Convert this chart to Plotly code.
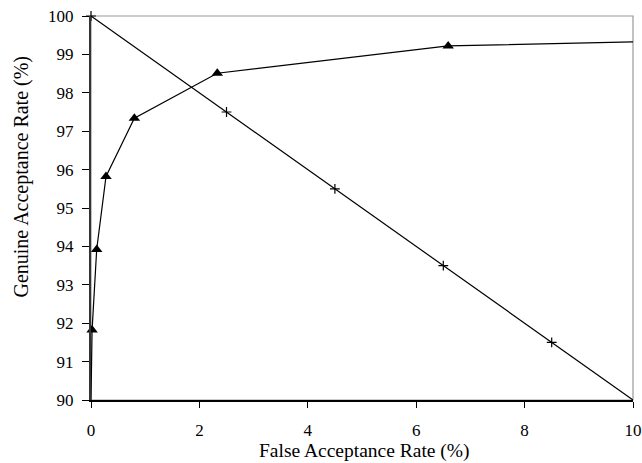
import plotly.graph_objects as go

# Triangle series (ROC-like curve)
far_tri = [0.0, 0.02, 0.105, 0.277, 0.80, 2.33, 6.59, 10.12]
gar_tri = [90.0, 91.82, 93.92, 95.82, 97.34, 98.51, 99.22, 99.33]

# Plus series (diagonal)
far_plus = [0.0, 2.5, 4.5, 6.5, 8.5, 10.1]
gar_plus = [100.0, 97.5, 95.5, 93.5, 91.5, 89.9]

x_ticks = [0, 2, 4, 6, 8, 10]
y_ticks = list(range(90, 101))

x_title = "False Acceptance Rate (%)"
y_title = "Genuine Acceptance Rate (%)"

FONT = "Liberation Serif, Times New Roman, serif"

fig = go.Figure()

fig.add_trace(go.Scatter(
    x=far_tri, y=gar_tri, mode="lines+markers",
    line=dict(color="black", width=1.2),
    marker=dict(symbol="triangle-up", size=10, color="black",
                opacity=[0, 1, 1, 1, 1, 1, 1, 0]),
    cliponaxis=False, showlegend=False,
))

fig.add_trace(go.Scatter(
    x=far_plus, y=gar_plus, mode="lines+markers",
    line=dict(color="black", width=1.2),
    marker=dict(symbol="cross-thin", size=7, color="black",
                line=dict(color="black", width=1.2),
                opacity=[1, 1, 1, 1, 1, 0]),
    cliponaxis=False, showlegend=False,
))

fig.add_shape(type="rect", xref="paper", yref="paper", x0=0, x1=1, y0=0, y1=1,
              line=dict(color="#999999", width=1.2), layer="below")

fig.update_layout(
    width=642, height=463,
    margin=dict(l=91, r=9, t=16, b=63, autoexpand=False),
    paper_bgcolor="white", plot_bgcolor="white",
    font=dict(family=FONT, size=17, color="black"),
)

fig.update_xaxes(
    range=[0, 10], tickvals=x_ticks, ticktext=[str(v) for v in x_ticks],
    showgrid=False, zeroline=False, showline=True, linecolor="black", linewidth=1.5,
    ticks="outside", ticklen=6, tickcolor="black", tickwidth=1.2,
    tickfont=dict(family=FONT, size=17), automargin=False, ticklabelstandoff=8,
)
fig.update_yaxes(
    range=[90, 100], tickvals=y_ticks, ticktext=[str(v) for v in y_ticks],
    showgrid=False, zeroline=False, showline=True, linecolor="#333333", linewidth=2,
    ticks="outside", ticklen=7, tickcolor="black", tickwidth=1.2,
    tickfont=dict(family=FONT, size=17), automargin=False, ticklabelstandoff=5,
)

fig.add_annotation(text=x_title, xref="paper", yref="paper", x=0.5037, y=-0.133,
                   xanchor="center", yanchor="middle", showarrow=False,
                   font=dict(family=FONT, size=19.5))
fig.add_annotation(text=y_title, xref="paper", yref="paper", x=-0.1273, y=0.582,
                   xanchor="center", yanchor="middle", showarrow=False, textangle=-90,
                   font=dict(family=FONT, size=20))

fig.write_html("out.html")
